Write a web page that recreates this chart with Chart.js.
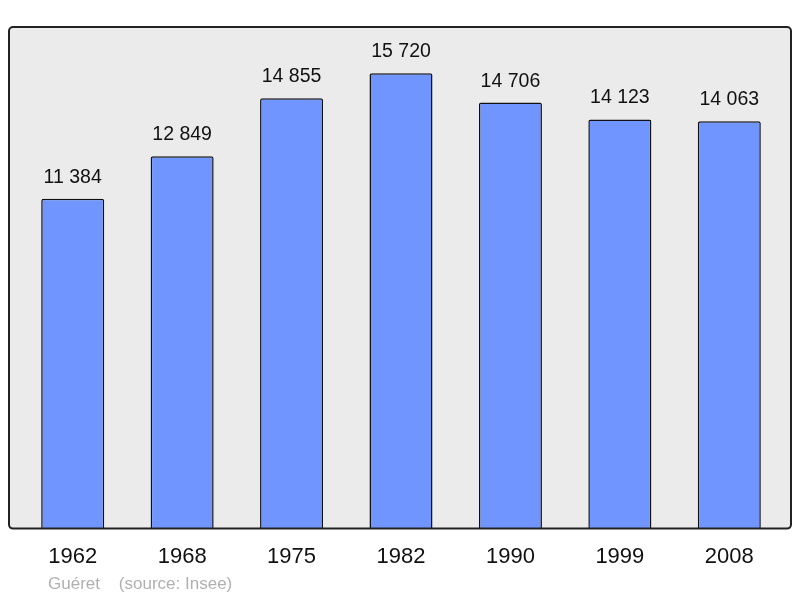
<!DOCTYPE html>
<html>
<head>
<meta charset="utf-8">
<script src="https://cdn.jsdelivr.net/npm/chart.js@4"></script>
<style>
  html, body { margin: 0; padding: 0; background: #fff; }
  #wrap { width: 800px; height: 598px; }
</style>
</head>
<body>
<div id="wrap"><canvas id="popChart"></canvas></div>
<script>
const years = ['1962', '1968', '1975', '1982', '1990', '1999', '2008'];
const population = [11384, 12849, 14855, 15720, 14706, 14123, 14063];
const sourceLabel = 'Guéret    (source: Insee)';

function formatNumber(n) {
    return String(n).replace(/\B(?=(\d{3})+(?!\d))/g, ' ');
}

// grey frame behind the bars, border drawn on top
const framePlugin = {
    id: 'frame',
    beforeDatasetsDraw(chart) {
        const { ctx, chartArea } = chart;
        ctx.save();
        ctx.beginPath();
        ctx.roundRect(chartArea.left - 9, chartArea.top - 1, chartArea.width + 16, chartArea.height + 1, 4);
        ctx.fillStyle = '#ebebeb';
        ctx.fill();
        ctx.restore();
    },
    afterDatasetsDraw(chart) {
        const { ctx, chartArea } = chart;
        ctx.save();
        ctx.beginPath();
        ctx.roundRect(chartArea.left - 9, chartArea.top - 1, chartArea.width + 16, chartArea.height + 1, 4);
        ctx.lineWidth = 2;
        ctx.strokeStyle = '#222';
        ctx.stroke();

        // value labels above bars
        const meta = chart.getDatasetMeta(0);
        ctx.font = '19.5px "Liberation Sans", Arial, sans-serif';
        ctx.fillStyle = '#111';
        ctx.textAlign = 'center';
        ctx.textBaseline = 'alphabetic';
        meta.data.forEach((bar, i) => {
            ctx.fillText(formatNumber(population[i]), bar.x, bar.y - 16);
        });

        // source note
        ctx.font = '17px "Liberation Sans", Arial, sans-serif';
        ctx.fillStyle = '#b0b0b0';
        ctx.textAlign = 'left';
        ctx.textBaseline = 'middle';
        ctx.fillText(sourceLabel, 48, chart.height - 14);
        ctx.restore();
    }
};

const ctx = document.getElementById('popChart').getContext('2d');
const chart = new Chart(ctx, {
    type: 'bar',
    data: {
        labels: years,
        datasets: [{
            data: population,
            backgroundColor: '#7095ff',
            borderColor: '#111',
            borderWidth: 1.5,
            borderRadius: 2,
            borderSkipped: 'bottom',
            categoryPercentage: 1,
            barPercentage: 0.576
        }]
    },
    options: {
        responsive: true,
        maintainAspectRatio: false,
        animation: false,
        layout: {
            padding: { left: 18, right: 16, top: 28, bottom: 21 }
        },
        plugins: {
            legend: { display: false },
            tooltip: { enabled: false }
        },
        scales: {
            x: {
                grid: { display: false },
                border: { display: false },
                ticks: {
                    color: '#111',
                    padding: 7,
                    font: { family: '"Liberation Sans", Arial, sans-serif', size: 22 }
                }
            },
            y: {
                display: false,
                min: 0,
                max: 17280
            }
        }
    },
    plugins: [framePlugin]
});
</script>
</body>
</html>
